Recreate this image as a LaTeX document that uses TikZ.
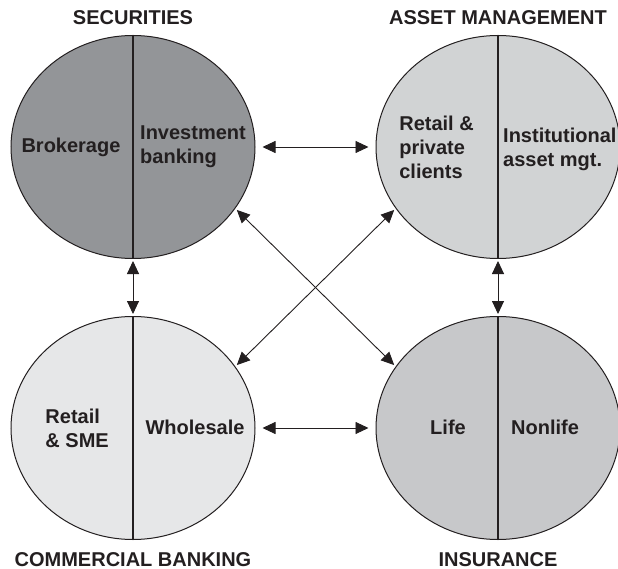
\documentclass[tikz,border=0pt]{standalone}
\usepackage{fontspec}
\setmainfont{Liberation Sans}
\usetikzlibrary{shapes,arrows.meta,positioning}
\definecolor{inkblack}{HTML}{231F20}
\definecolor{secgray}{HTML}{939598}
\definecolor{assetgray}{HTML}{D1D3D4}
\definecolor{bankgray}{HTML}{E6E7E8}
\definecolor{insgray}{HTML}{C7C8CA}
\tikzstyle{segment} = [ellipse, draw=inkblack, line width=1pt, minimum width=244pt, minimum height=223pt, inner sep=0pt]
\tikzstyle{unittext} = [font=\fontsize{20}{24}\selectfont\bfseries, text=inkblack, inner sep=0pt, align=left]
\tikzstyle{heading} = [font=\fontsize{20}{24}\selectfont\bfseries, text=inkblack, inner sep=0pt]
\tikzstyle{divider} = [draw=inkblack, line width=1.2pt]
\tikzstyle{arrow} = [draw=inkblack, line width=0.9pt, {Triangle[length=13pt,width=12pt]}-{Triangle[length=13pt,width=12pt]}]

\begin{document}
\begin{tikzpicture}[x=1pt,y=-1pt]
        \useasboundingbox (0,0) rectangle (618,569);
        \node (sec) [segment, fill=secgray] at (133,147) {};
        \node (asset) [segment, fill=assetgray, right=120pt of sec] {};
        \node (bank) [segment, fill=bankgray, below=57pt of sec] {};
        \node (ins) [segment, fill=insgray, below=57pt of asset] {};

        \draw [divider] (sec.north) -- (sec.south);
        \draw [divider] (asset.north) -- (asset.south);
        \draw [divider] (bank.north) -- (bank.south);
        \draw [divider] (ins.north) -- (ins.south);

        \node (sectitle) [heading, above=10pt of sec] {SECURITIES};
        \node (assettitle) [heading, above=10pt of asset] {ASSET MANAGEMENT};
        \node (banktitle) [heading, below=12pt of bank] {COMMERCIAL BANKING};
        \node (institle) [heading, below=12pt of ins] {INSURANCE};

        \node (broker) [unittext, xshift=-62pt] at (sec) {Brokerage};
        \node (invest) [unittext, anchor=west, xshift=7pt] at (sec) {Investment\\banking};
        \node (retail) [unittext, anchor=east, xshift=-24pt] at (asset) {Retail \&\\private\\clients};
        \node (instit) [unittext, anchor=west, xshift=5pt, yshift=-2pt] at (asset) {Institutional\\asset mgt.};
        \node (sme) [unittext, anchor=east, xshift=-24pt] at (bank) {Retail\\\& SME};
        \node (whole) [unittext, xshift=62pt, yshift=1pt] at (bank) {Wholesale};
        \node (life) [unittext, xshift=-50pt, yshift=1pt] at (ins) {Life};
        \node (nonlife) [unittext, xshift=47pt, yshift=1pt] at (ins) {Nonlife};

        \draw [arrow, shorten <=7pt, shorten >=7pt] (sec) -- (asset);
        \draw [arrow, shorten <=7pt, shorten >=7pt] (bank) -- (ins);
        \draw [arrow, shorten <=2pt, shorten >=2pt] (sec) -- (bank);
        \draw [arrow, shorten <=2pt, shorten >=2pt] (asset) -- (ins);
        \draw [arrow, shorten <=2pt, shorten >=2pt] (sec.-31) -- (ins.149);
        \draw [arrow, shorten <=2pt, shorten >=2pt] (bank.31) -- (asset.-149);
    \end{tikzpicture}
\end{document}
